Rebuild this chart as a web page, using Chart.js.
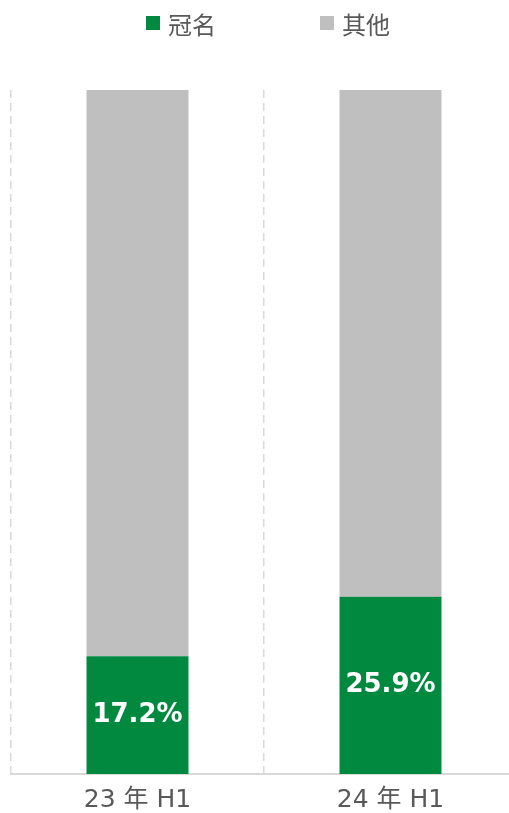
<!DOCTYPE html>
<html>
<head>
<meta charset="utf-8">
<script src="https://cdn.jsdelivr.net/npm/chart.js@4.4.0/dist/chart.umd.min.js"></script>
<style>
  body { margin: 0; overflow: hidden; background: #fff; font-family: "DejaVu Sans", "Noto Sans CJK SC", sans-serif; }
  #wrap { position: relative; width: 509px; height: 813px; overflow: hidden; }
  #legend { position: absolute; top: 0; left: 0; width: 509px; height: 48px; }
  .item { position: absolute; top: 8px; height: 30px; display: flex; align-items: center; color: #595959; font-size: 24px; }
  .item span.box { width: 14px; height: 14px; margin-right: 8px; display: inline-block; }
  canvas { position: absolute; top: 0; left: 0; }
</style>
</head>
<body>
<div id="wrap">
  <canvas id="myChart" width="520" height="813"></canvas>
  <div id="legend"></div>
</div>
<script>
  // donnees
  const categories = ['23 年 H1', '24 年 H1']
  const seriesNames = ['冠名', '其他']
  const guanming = [17.2, 25.9]
  const qita = [82.8, 74.1]
  const colors = ['#00893F', '#BFBFBF']

  // legende html
  const legend = document.querySelector('#legend')
  const legendX = [146, 320]
  seriesNames.forEach((name, i) => {
    let div = document.createElement('div')
    div.className = 'item'
    div.style.left = legendX[i] + 'px'
    div.innerHTML = '<span class="box" style="background:' + colors[i] + '"></span>' + name
    legend.appendChild(div)
  })

  // etiquettes dans les barres vertes
  const barLabels = {
    id: 'barLabels',
    afterDatasetsDraw(chart) {
      const ctx = chart.ctx
      const meta = chart.getDatasetMeta(0)
      ctx.save()
      ctx.fillStyle = '#ffffff'
      ctx.font = 'bold 26px "DejaVu Sans"'
      ctx.textAlign = 'center'
      ctx.textBaseline = 'middle'
      meta.data.forEach((bar, i) => {
        let y = (bar.y + bar.base) / 2
        ctx.fillText(guanming[i].toFixed(1) + '%', bar.x, y)
      })
      ctx.restore()
    }
  }

  const chart = new Chart(document.querySelector('#myChart'), {
    type: 'bar',
    data: {
      labels: categories,
      datasets: [
        { label: seriesNames[0], data: guanming, backgroundColor: colors[0] },
        { label: seriesNames[1], data: qita, backgroundColor: colors[1] }
      ]
    },
    options: {
      responsive: false,
      animation: false,
      layout: { padding: { top: 90, left: 11, right: 3, bottom: 0 } },
      plugins: { legend: { display: false }, tooltip: { enabled: false } },
      datasets: { bar: { categoryPercentage: 1, barPercentage: 0.403 } },
      scales: {
        x: {
          stacked: true,
          grid: { color: '#d9d9d9', lineWidth: 1.5, drawTicks: false, offset: true },
          border: { color: '#d9d9d9', width: 2, dash: [8, 5] },
          ticks: { color: '#595959', font: { size: 25, family: '"DejaVu Sans", "Noto Sans CJK SC"' }, padding: 11 },
          afterFit(scale) { scale.height = 39 }
        },
        y: { stacked: true, display: false, min: 0, max: 100 }
      }
    },
    plugins: [barLabels]
  })
</script>
</body>
</html>
